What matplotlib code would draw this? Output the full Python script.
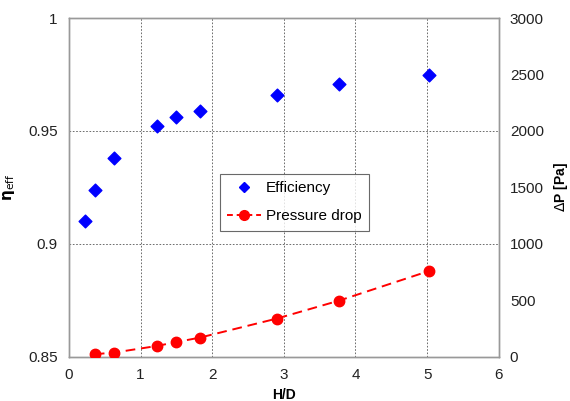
import matplotlib.pyplot as plt
from matplotlib.lines import Line2D

plt.rcParams['font.family'] = ['Liberation Sans', 'DejaVu Sans']

# data
hd_eff = [0.22, 0.36, 0.63, 1.23, 1.49, 1.83, 2.90, 3.77, 5.03]
efficiency = [0.910, 0.924, 0.938, 0.952, 0.956, 0.959, 0.966, 0.971, 0.975]
hd_dp = [0.36, 0.63, 1.23, 1.49, 1.83, 2.90, 3.77, 5.03]
pressure_drop = [24, 38, 97, 130, 171, 339, 498, 761]

x_ticks = [0, 1, 2, 3, 4, 5, 6]
eff_ticks = [0.85, 0.9, 0.95, 1.0]
eff_labels = ['0.85', '0.9', '0.95', '1']
dp_ticks = [0, 500, 1000, 1500, 2000, 2500, 3000]

fig = plt.figure(figsize=(5.7, 4.01), dpi=100)
ax = fig.add_axes([0.121, 0.110, 0.754, 0.845])
ax2 = ax.twinx()

ax.scatter(hd_eff, efficiency, marker='D', s=42, color='#0000ff', zorder=3)
ax2.plot(hd_dp, pressure_drop, color='#ff0000', linestyle=(0, (5, 3)), linewidth=1.4,
         marker='o', markersize=7.5, zorder=3)

ax.set_xlim(0, 6)
ax.set_ylim(0.85, 1.0)
ax2.set_ylim(0, 3000)
ax.set_xticks(x_ticks)
ax.set_yticks(eff_ticks)
ax.set_yticklabels(eff_labels)
ax2.set_yticks(dp_ticks)

ax.grid(True, color='#555555', linestyle=(0, (2, 2)), linewidth=0.6)
ax.set_axisbelow(True)

for a in (ax, ax2):
    for s in a.spines.values():
        s.set_color('#999999')
        s.set_linewidth(1.0)
    a.tick_params(length=0, labelsize=11, pad=8, colors='#222222')

ax.set_xlabel('H/D', fontsize=10, fontweight='bold', labelpad=4)
ax.set_ylabel(r'$\mathbf{\eta}_{\mathrm{eff}}$', fontsize=11, labelpad=8)
ax2.set_ylabel(r'$\Delta$P [Pa]', fontsize=10, fontweight='bold', labelpad=6)

handles = [
    Line2D([], [], color='#0000ff', marker='D', markersize=5, linestyle='none'),
    Line2D([], [], color='#ff0000', marker='o', markersize=7, linestyle=(0, (3, 2)), linewidth=1.4),
]
leg = ax2.legend(handles, ['Efficiency', 'Pressure drop'], loc='upper left',
                 bbox_to_anchor=(0.333, 0.563), fontsize=11, frameon=True,
                 fancybox=False, edgecolor='#444444', handlelength=2.2,
                 handletextpad=0.3, labelspacing=0.9, borderpad=0.5)
leg.get_frame().set_linewidth(0.8)

fig.savefig('out.png', dpi=100)
